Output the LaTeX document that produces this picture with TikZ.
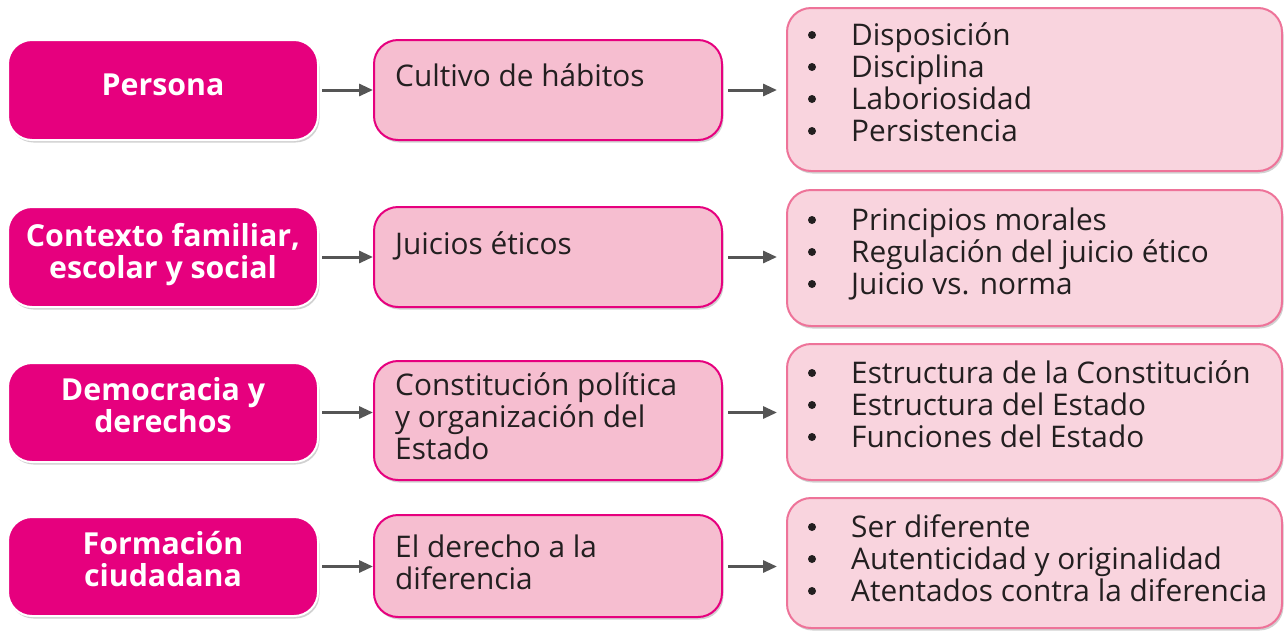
\documentclass[tikz,border=0pt]{standalone}
\usepackage{fontspec}
\setmainfont{Open Sans}
\usetikzlibrary{arrows.meta,shadows}
\definecolor{mag}{HTML}{E6007E}
\definecolor{midfill}{HTML}{F6BED0}
\definecolor{rfill}{HTML}{F9D4DE}
\definecolor{rborder}{HTML}{EE7399}
\definecolor{ink}{HTML}{231F20}
\definecolor{arr}{HTML}{555555}
\tikzset{
  shad/.style={drop shadow={shadow xshift=1.5pt,shadow yshift=-2.5pt,opacity=0.18,fill=black}},
  lbox/.style={draw=white,line width=2pt,fill=mag,rounded corners=24pt,shad,minimum width=310pt},
  mbox/.style={draw=mag,line width=2pt,fill=midfill,rounded corners=24pt,shad,minimum width=348pt},
  rbox/.style={draw=rborder,line width=2pt,fill=rfill,rounded corners=24pt,shad,minimum width=495pt},
  ltext/.style={inner sep=0pt,anchor=base,text=white,font=\fontsize{30.3}{32}\selectfont\bfseries},
  mtext/.style={inner sep=0pt,anchor=base west,text=ink,font=\fontsize{29.8}{32}\selectfont},
  rtext/.style={inner sep=0pt,anchor=base west,text=ink,font=\fontsize{29.8}{32}\selectfont},
  conn/.style={draw=arr,line width=3pt,-{Triangle[length=14pt,width=12pt]}},
  bulletdot/.style={fill=ink}
}
\begin{document}
\begin{tikzpicture}[x=1pt,y=-1pt]
\useasboundingbox (0,0) rectangle (1284,630);
\fill[white] (0,0) rectangle (1284,630);
% left boxes
\node[lbox,minimum height=100pt] (L1) at (163,90) {};
\node[lbox,minimum height=100pt] (L2) at (163,257) {};
\node[lbox,minimum height=99pt] (L3) at (163,412.5) {};
\node[lbox,minimum height=99pt] (L4) at (163,566.5) {};
% middle boxes
\node[mbox,minimum height=100pt] (M1) at (548,90) {};
\node[mbox,minimum height=100pt] (M2) at (548,257) {};
\node[mbox,minimum height=119pt] (M3) at (548,420.5) {};
\node[mbox,minimum height=102pt] (M4) at (548,566) {};
% right boxes
\node[rbox,minimum height=163pt] (R1) at (1034.5,89.5) {};
\node[rbox,minimum height=136pt] (R2) at (1034.5,258) {};
\node[rbox,minimum height=136pt] (R3) at (1034.5,412) {};
\node[rbox,minimum height=130pt] (R4) at (1034.5,563) {};
% left texts
\node[ltext] (t1) at (163,95) {Persona};
\node[ltext] (t2a) at (163,246) {Contexto familiar,};
\node[ltext] (t2b) at (163,278) {escolar y social};
\node[ltext] (t3a) at (163,400) {Democracia y};
\node[ltext] (t3b) at (163,432) {derechos};
\node[ltext] (t4a) at (163,554) {Formación};
\node[ltext] (t4b) at (163,586) {ciudadana};
% middle texts
\node[mtext] (m1) at (395,86) {Cultivo de hábitos};
\node[mtext] (m2) at (395,254) {Juicios éticos};
\node[mtext] (m3a) at (395,395) {Constitución política};
\node[mtext] (m3b) at (395,427) {y organización del};
\node[mtext] (m3c) at (395,459) {Estado};
\node[mtext] (m4a) at (395,557) {El derecho a la};
\node[mtext] (m4b) at (395,589) {diferencia};
% right texts
\node[rtext] (r1a) at (851,45) {Disposición};
\node[rtext] (r1b) at (851,77) {Disciplina};
\node[rtext] (r1c) at (851,109) {Laboriosidad};
\node[rtext] (r1d) at (851,141) {Persistencia};
\node[rtext] (r2a) at (851,230) {Principios morales};
\node[rtext] (r2b) at (851,262) {Regulación del juicio ético};
\node[rtext] (r2c) at (851,294) {Juicio vs. norma};
\node[rtext] (r3a) at (851,383) {Estructura de la Constitución};
\node[rtext] (r3b) at (851,415) {Estructura del Estado};
\node[rtext] (r3c) at (851,447) {Funciones del Estado};
\node[rtext] (r4a) at (851,537) {Ser diferente};
\node[rtext] (r4b) at (851,569) {Autenticidad y originalidad};
\node[rtext] (r4c) at (851,601) {Atentados contra la diferencia};
% bullets
\foreach \b in {45,77,109,141,230,262,294,383,415,447,537,569,601}{
  \fill[bulletdot] (812,\b-10) circle (4pt);
}
% connectors
\foreach \i in {1,2,3,4}{
  \draw[conn,shorten <=3pt] (L\i.east) -- (L\i.east -| M\i.west);
  \draw[conn,shorten <=5pt,shorten >=9pt] (L\i.east -| M\i.east) -- (L\i.east -| R\i.west);
}
\end{tikzpicture}
\end{document}
